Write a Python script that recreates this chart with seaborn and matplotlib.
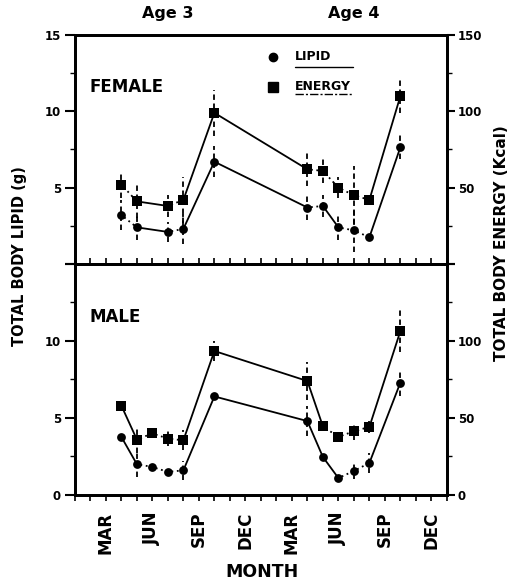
import pandas as pd
import matplotlib.pyplot as plt
import matplotlib.transforms as mtransforms
from matplotlib.ticker import MultipleLocator
import seaborn as sns

# Months counted from 1 January of the age-3 year (0..24)
months_female = [3, 4, 6, 7, 9, 15, 16, 17, 18, 19, 21]
lipid_female = [3.2, 2.4, 2.1, 2.3, 6.7, 3.7, 3.8, 2.4, 2.2, 1.75, 7.65]
lipid_female_se = [1.0, 0.8, 0.65, 1.0, 1.0, 0.85, 0.7, 0.85, 1.4, 0.0, 0.8]
energy_female = [52, 41, 38, 42, 99, 62, 61, 50, 45, 42, 110]
energy_female_se = [9, 11, 7, 15, 15, 11, 8, 7, 19, 0, 11]

months_male = [3, 4, 5, 6, 7, 9, 15, 16, 17, 18, 19, 21]
lipid_male = [3.77, 2.0, 1.82, 1.5, 1.6, 6.4, 4.8, 2.47, 1.1, 1.56, 2.08, 7.3]
lipid_male_se = [0, 0.8, 0, 0, 0.6, 0, 1.0, 0, 0, 0.55, 0.65, 0.9]
energy_male = [58, 36, 40, 36.6, 35.5, 93.5, 74, 44.6, 37.7, 41.4, 44.2, 106.5]
energy_male_se = [0, 9, 0, 5, 6.5, 6.5, 12.5, 0, 0, 6, 4, 13.5]

month_ticks = [2, 5, 8, 11, 14, 17, 20, 23]
month_labels = ['MAR', 'JUN', 'SEP', 'DEC', 'MAR', 'JUN', 'SEP', 'DEC']
age_labels = ['Age 3', 'Age 4']
age_positions = [6, 18]

sns.set_theme(style='ticks')
plt.rcParams['font.family'] = ['DejaVu Sans']
plt.rcParams.update({
    'font.weight': 'bold',
    'axes.edgecolor': 'black',
    'axes.linewidth': 2.0,
    'xtick.color': 'black',
    'ytick.color': 'black',
    'text.color': 'black',
})


def draw_series(ax, months, values, errors, marker, size, scale):
    # error bars: broken vertical lines
    for m, v, e in zip(months, values, errors):
        if e > 0:
            ax.vlines(m, v - e, v + e, colors='black', lw=1.3,
                      linestyles=[(0, (3, 2))], zorder=1)
    # connecting lines: short flat steps look dash-dotted in the scan
    for i in range(len(months) - 1):
        gap = months[i + 1] - months[i]
        rise = abs(values[i + 1] - values[i]) / scale
        ls = (0, (3, 2, 1, 2)) if gap == 1 and rise < 1.25 else '-'
        ax.plot(months[i:i + 2], values[i:i + 2], color='black', lw=1.3,
                linestyle=ls, zorder=2)
    df = pd.DataFrame({'month': months, 'value': values})
    sns.scatterplot(data=df, x='month', y='value', marker=marker, s=size,
                    color='black', edgecolor='black', linewidth=0, ax=ax,
                    zorder=3, legend=False)


def style_panel(ax, ax2, is_top):
    ax.set_xlim(0, 24)
    ax.set_ylim(0, 15)
    ax2.set_ylim(0, 150)
    ax.set_xlabel('')
    ax.set_ylabel('')
    ax2.set_ylabel('')
    for a in (ax, ax2):
        for sp in a.spines.values():
            sp.set_linewidth(2.0)
            sp.set_visible(True)
    ax.set_yticks([0, 5, 10, 15])
    ax2.set_yticks([0, 50, 100, 150])
    if is_top:
        ax.set_yticklabels(['', '5', '10', '15'])
        ax2.set_yticklabels(['', '50', '100', '150'])
    else:
        ax.set_yticklabels(['0', '5', '10', ''])
        ax2.set_yticklabels(['0', '50', '100', ''])
    ax.yaxis.set_minor_locator(MultipleLocator(2.5))
    ax2.yaxis.set_minor_locator(MultipleLocator(25))
    ax.tick_params(axis='y', which='major', direction='out', length=7,
                   width=1.5, labelsize=8.5, pad=3, right=False)
    ax.tick_params(axis='y', which='minor', direction='out', length=3.5,
                   width=1.0, right=False)
    ax2.tick_params(axis='y', which='major', direction='out', length=6,
                    width=1.5, labelsize=8.5, pad=2)
    ax2.tick_params(axis='y', which='minor', direction='out', length=3.5,
                    width=1.0)
    for lab in ax.get_yticklabels() + ax2.get_yticklabels():
        lab.set_fontweight('bold')
    ax.xaxis.set_minor_locator(MultipleLocator(1))
    ax.set_xticks(month_ticks)
    if is_top:
        ax.tick_params(axis='x', which='both', direction='in', length=4,
                       width=1.2, labelbottom=False, top=False)
    else:
        ax.set_xticklabels(month_labels, rotation=90, fontsize=12,
                           fontweight='bold')
        ax.tick_params(axis='x', which='both', direction='out', length=4,
                       width=1.2, pad=8, top=False)


fig = plt.figure(figsize=(5.2, 5.82), dpi=100)
ax_top = fig.add_axes([0.144, 0.5464, 0.7154, 0.3935])
ax_bot = fig.add_axes([0.144, 0.1495, 0.7154, 0.3969])
ax_top2 = ax_top.twinx()
ax_bot2 = ax_bot.twinx()

draw_series(ax_top, months_female, lipid_female, lipid_female_se, 'o', 40, 1)
draw_series(ax_top2, months_female, energy_female, energy_female_se, 's', 44, 10)
draw_series(ax_bot, months_male, lipid_male, lipid_male_se, 'o', 40, 1)
draw_series(ax_bot2, months_male, energy_male, energy_male_se, 's', 44, 10)

style_panel(ax_top, ax_top2, True)
style_panel(ax_bot, ax_bot2, False)

# panel names
ax_top.text(0.040, 0.773, 'FEMALE', transform=ax_top.transAxes, fontsize=12,
            fontweight='bold', ha='left', va='center')
ax_bot.text(0.040, 0.771, 'MALE', transform=ax_bot.transAxes, fontsize=12,
            fontweight='bold', ha='left', va='center')

# legend drawn by hand (underlined labels)
ax_top.plot([0.532], [0.904], marker='o', ms=6, color='black',
            transform=ax_top.transAxes, clip_on=False)
ax_top.plot([0.532], [0.773], marker='s', ms=7, color='black',
            transform=ax_top.transAxes, clip_on=False)
ax_top.text(0.591, 0.904, 'LIPID', transform=ax_top.transAxes, fontsize=9,
            fontweight='bold', ha='left', va='center')
ax_top.text(0.591, 0.773, 'ENERGY', transform=ax_top.transAxes, fontsize=9,
            fontweight='bold', ha='left', va='center')
ax_top.plot([0.591, 0.747], [0.862, 0.862], color='black', lw=1.0,
            transform=ax_top.transAxes)
ax_top.plot([0.591, 0.747], [0.742, 0.742], color='black', lw=1.0,
            linestyle=(0, (6, 1.5, 1.5, 1.5)), transform=ax_top.transAxes)

# age labels above the top panel
blend = mtransforms.blended_transform_factory(ax_top.transData, ax_top.transAxes)
for pos, lab in zip(age_positions, age_labels):
    ax_top.text(pos, 1.092, lab, transform=blend, fontsize=11.5,
                fontweight='bold', ha='center', va='center', clip_on=False)

fig.text(20 / 520, 1 - 256 / 582, 'TOTAL BODY LIPID (g)', rotation=90,
         fontsize=10.5, fontweight='bold', ha='center', va='center')
fig.text(502 / 520, 1 - 243 / 582, 'TOTAL BODY ENERGY (Kcal)', rotation=90,
         fontsize=11, fontweight='bold', ha='center', va='center')
fig.text(262 / 520, 1 - 572 / 582, 'MONTH', fontsize=12.5,
         fontweight='bold', ha='center', va='center')

plt.savefig('out.png', dpi=100, facecolor='white')
